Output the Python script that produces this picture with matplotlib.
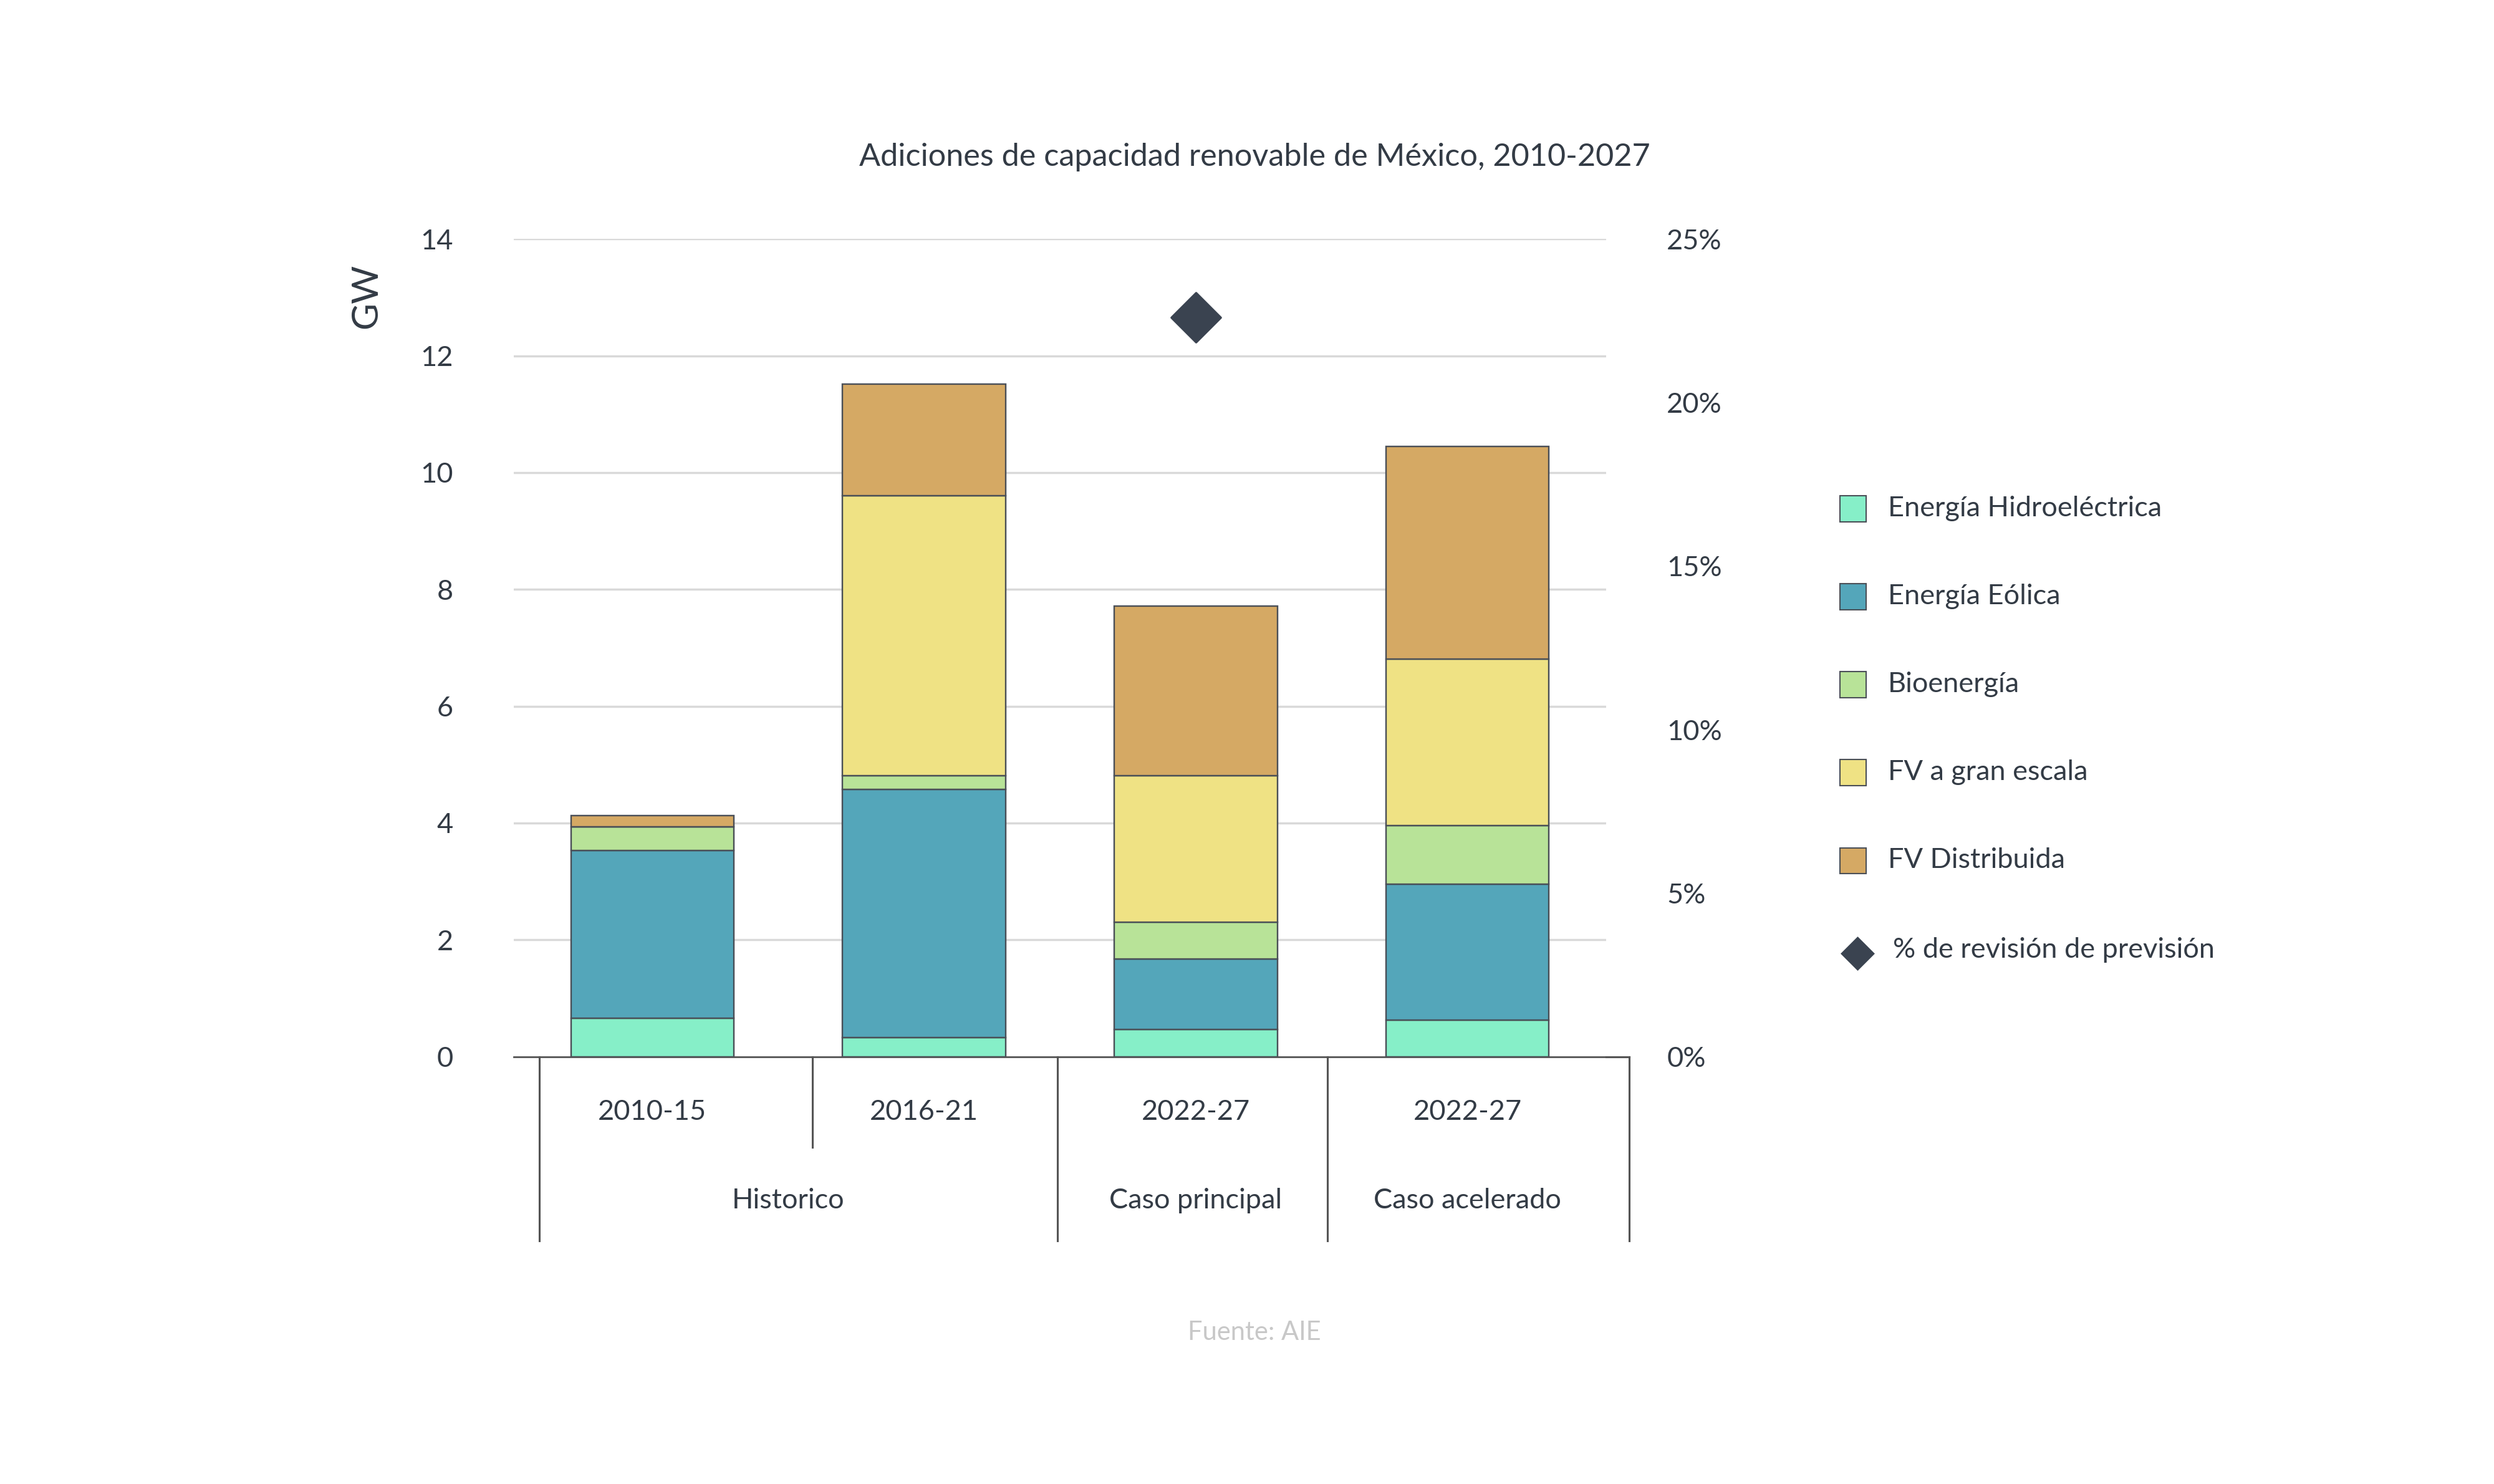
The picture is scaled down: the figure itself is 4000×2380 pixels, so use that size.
import matplotlib
matplotlib.use("Agg")
import matplotlib.pyplot as plt
from matplotlib.patches import Rectangle
from matplotlib.lines import Line2D

plt.rcParams['font.family'] = ['Lato', 'DejaVu Sans']

periods = ['2010-15', '2016-21', '2022-27', '2022-27']
groups = ['Historico', 'Caso principal', 'Caso acelerado']
series = ['Energía Hidroeléctrica', 'Energía Eólica', 'Bioenergía', 'FV a gran escala', 'FV Distribuida']
hydro = [0.66, 0.33, 0.46, 0.63]
wind = [2.87, 4.24, 1.21, 2.32]
bio = [0.41, 0.24, 0.63, 1.01]
pv_large = [0.0, 4.79, 2.51, 2.85]
pv_dist = [0.19, 1.91, 2.90, 3.64]
revision = [None, None, 22.6, None]

colors = ['#86EFC8', '#54A6BA', '#B8E398', '#EFE284', '#D5A964']
text_c = '#333B45'

fig = plt.figure(figsize=(16, 9.52), dpi=250)
ax = fig.add_axes([0.206, 0.288, 0.438, 0.551])

x = range(len(periods))
bottom = [0.0] * 4
for vals, c in zip([hydro, wind, bio, pv_large, pv_dist], colors):
    ax.bar(x, vals, 0.6, bottom=bottom, color=c, edgecolor='#4a4f57', linewidth=0.7, zorder=3)
    bottom = [b + v for b, v in zip(bottom, vals)]

ax.set_ylim(0, 14)
ax.set_xlim(-0.51, 3.51)
ax.set_yticks(range(0, 15, 2))
ax.grid(axis='y', color='#d9d9d9', linewidth=1, zorder=0)
ax.tick_params(axis='y', length=0, labelsize=13, colors=text_c, pad=28)
ax.set_xticks([])
for s in ['top', 'right', 'left']:
    ax.spines[s].set_visible(False)
ax.spines['bottom'].set_color('#555')
ax.set_ylabel('GW', fontsize=17, color=text_c, labelpad=8)
ax.yaxis.set_label_coords(-0.12, 0.93)

ax2 = ax.twinx()
ax2.set_ylim(0, 25)
ax2.set_yticks(range(0, 26, 5))
ax2.set_yticklabels([f'{v}%' for v in range(0, 26, 5)])
ax2.tick_params(axis='y', length=0, labelsize=13, colors=text_c, pad=28)
for s in ax2.spines.values():
    s.set_visible(False)
for i, r in enumerate(revision):
    if r is not None:
        ax2.scatter(i, r, marker='D', s=260, color='#3A4350', zorder=5)

# category boxes under the axis
tr = ax.get_xaxis_transform()
for xv, yb in [(-0.416, -0.225), (0.59, -0.111), (1.49, -0.225), (2.484, -0.225), (3.596, -0.225)]:
    ax.add_line(Line2D([xv, xv], [0, yb], transform=tr, color='#555', linewidth=0.9, clip_on=False))
ax.add_line(Line2D([3.51, 3.596], [0, 0], transform=tr, color='#555', linewidth=0.9, clip_on=False))
for i, p in enumerate(periods):
    ax.text(i, -0.068, p, transform=tr, ha='center', va='center', fontsize=13, color=text_c)
for xv, g in zip([0.5, 2.0, 3.0], groups):
    ax.text(xv, -0.176, g, transform=tr, ha='center', va='center', fontsize=13, color=text_c)

fig.text(0.503, 0.894, 'Adiciones de capacidad renovable de México, 2010-2027',
         ha='center', va='center', fontsize=14.5, color=text_c)
fig.text(0.503, 0.102, 'Fuente: AIE', ha='center', va='center', fontsize=12, color='#c8c8c8')

# legend
leg_y = [318, 373, 428, 483, 538]
for yy, lab, c in zip(leg_y, series, colors):
    fy = 1 - yy / 928
    fig.patches.append(Rectangle((1151 / 1560, fy - 0.009), 0.0105, 0.0175, transform=fig.transFigure,
                                 facecolor=c, edgecolor='#4a4f57', linewidth=0.6))
    fig.text(1181 / 1560, fy, lab, ha='left', va='center', fontsize=13, color=text_c)
fy = 1 - 596 / 928
fig.add_artist(Line2D([1162 / 1560], [fy], marker='D', markersize=10, color='#3A4350',
                      linestyle='none', transform=fig.transFigure))
fig.text(1184 / 1560, fy + 0.002, '% de revisión de previsión', ha='left', va='center', fontsize=13, color=text_c)

fig.savefig('out.png', dpi=250, facecolor='white')
